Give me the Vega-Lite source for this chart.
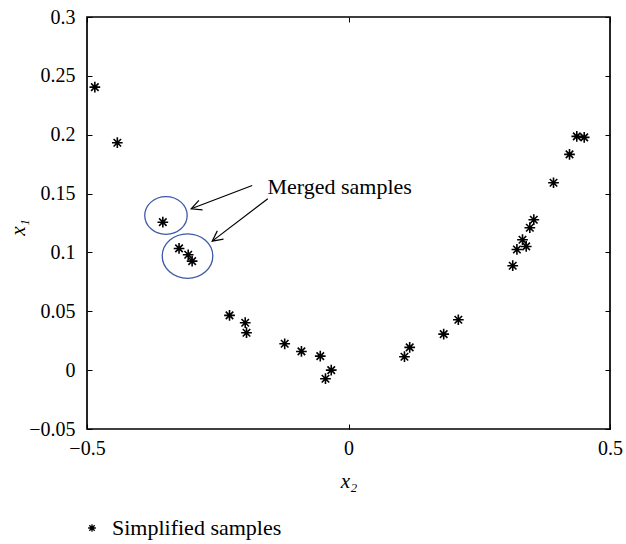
{
  "$schema": "https://vega.github.io/schema/vega-lite/v6.json",
  "width": 523,
  "height": 412,
  "autosize": {"type": "none"},
  "padding": {"left": 87, "top": 17, "right": 16, "bottom": 115},
  "background": "white",
  "config": {
    "view": {"stroke": "black", "strokeWidth": 1.7},
    "font": "Liberation Serif",
    "axis": {
      "domain": false,
      "grid": false,
      "ticks": true,
      "tickColor": "black",
      "tickSize": -5,
      "tickWidth": 1,
      "labelFlush": false,
      "labelOverlap": false,
      "labelColor": "black",
      "labelFont": "Liberation Serif",
      "labelFontSize": 20,
      "titleFont": "Liberation Serif",
      "titleFontSize": 21,
      "titleFontStyle": "italic",
      "titleFontWeight": "normal",
      "titleColor": "black"
    }
  },
  "datasets": {
    "samples": [
      {"x2": -0.485, "x1": 0.2404, "series": "Simplified samples"},
      {"x2": -0.442, "x1": 0.1932, "series": "Simplified samples"},
      {"x2": -0.355, "x1": 0.1257, "series": "Simplified samples"},
      {"x2": -0.324, "x1": 0.1034, "series": "Simplified samples"},
      {"x2": -0.3065, "x1": 0.098, "series": "Simplified samples"},
      {"x2": -0.299, "x1": 0.0926, "series": "Simplified samples"},
      {"x2": -0.2275, "x1": 0.0465, "series": "Simplified samples"},
      {"x2": -0.1975, "x1": 0.0403, "series": "Simplified samples"},
      {"x2": -0.195, "x1": 0.0318, "series": "Simplified samples"},
      {"x2": -0.122, "x1": 0.0224, "series": "Simplified samples"},
      {"x2": -0.09, "x1": 0.0159, "series": "Simplified samples"},
      {"x2": -0.054, "x1": 0.0119, "series": "Simplified samples"},
      {"x2": -0.033, "x1": 0.0, "series": "Simplified samples"},
      {"x2": -0.044, "x1": -0.0073, "series": "Simplified samples"},
      {"x2": 0.107, "x1": 0.0114, "series": "Simplified samples"},
      {"x2": 0.117, "x1": 0.0193, "series": "Simplified samples"},
      {"x2": 0.182, "x1": 0.0306, "series": "Simplified samples"},
      {"x2": 0.21, "x1": 0.0428, "series": "Simplified samples"},
      {"x2": 0.314, "x1": 0.0887, "series": "Simplified samples"},
      {"x2": 0.322, "x1": 0.1025, "series": "Simplified samples"},
      {"x2": 0.3327, "x1": 0.1108, "series": "Simplified samples"},
      {"x2": 0.3398, "x1": 0.1051, "series": "Simplified samples"},
      {"x2": 0.3467, "x1": 0.121, "series": "Simplified samples"},
      {"x2": 0.3543, "x1": 0.1278, "series": "Simplified samples"},
      {"x2": 0.392, "x1": 0.1592, "series": "Simplified samples"},
      {"x2": 0.4226, "x1": 0.1833, "series": "Simplified samples"},
      {"x2": 0.4365, "x1": 0.1986, "series": "Simplified samples"},
      {"x2": 0.4507, "x1": 0.1977, "series": "Simplified samples"}
    ],
    "ellipses": [
      {"x2": -0.349, "x1": 0.1314, "group": "A"},
      {"x2": -0.3078, "x1": 0.0969, "group": "B"}
    ],
    "arrows": [
      {"id": "A", "xs": -0.1841, "ys": 0.1569, "xe": -0.3008, "ye": 0.1371},
      {"id": "B", "xs": -0.1543, "ys": 0.1456, "xe": -0.2606, "ye": 0.1096}
    ],
    "labels": [
      {"x2": -0.1549, "x1": 0.1493, "text": "Merged samples"}
    ]
  },
  "layer": [
    {
      "data": {"name": "samples"},
      "mark": {"type": "point", "opacity": 0},
      "encoding": {
        "x": {"field": "x2", "type": "quantitative", "scale": {"domain": [-0.5, 0.5], "nice": false, "zero": false},
              "axis": {"orient": "top", "values": [-0.5, 0, 0.5], "labels": false, "title": null}},
        "y": {"field": "x1", "type": "quantitative", "scale": {"domain": [-0.05, 0.3], "nice": false, "zero": false},
              "axis": {"orient": "right", "values": [-0.05, 0, 0.05, 0.1, 0.15, 0.2, 0.25, 0.3], "labels": false, "title": null}}
      }
    },
    {
      "data": {"name": "ellipses"},
      "transform": [{"filter": "datum.group === 'A'"}],
      "mark": {"type": "point", "filled": false, "stroke": "#3d5aa8", "strokeWidth": 1.3, "opacity": 1, "size": 1800,
               "shape": "M-1,0A1,0.89,0,1,0,1,0A1,0.89,0,1,0,-1,0Z"},
      "encoding": {
        "x": {"field": "x2", "type": "quantitative", "axis": null},
        "y": {"field": "x1", "type": "quantitative", "axis": null}
      }
    },
    {
      "data": {"name": "ellipses"},
      "transform": [{"filter": "datum.group === 'B'"}],
      "mark": {"type": "point", "filled": false, "stroke": "#3d5aa8", "strokeWidth": 1.3, "opacity": 1, "size": 2560,
               "shape": "M-1,0A1,0.88,0,1,0,1,0A1,0.88,0,1,0,-1,0Z"},
      "encoding": {
        "x": {"field": "x2", "type": "quantitative", "axis": null},
        "y": {"field": "x1", "type": "quantitative", "axis": null}
      }
    },
    {
      "data": {"name": "arrows"},
      "mark": {"type": "rule", "color": "black", "strokeWidth": 1.2},
      "encoding": {
        "x": {"field": "xs", "type": "quantitative", "axis": null},
        "y": {"field": "ys", "type": "quantitative", "axis": null},
        "x2": {"field": "xe"},
        "y2": {"field": "ye"}
      }
    },
    {
      "data": {"name": "arrows"},
      "transform": [{"filter": "datum.id === 'A'"}],
      "mark": {"type": "point", "filled": false, "stroke": "black", "strokeWidth": 1.2, "opacity": 1, "size": 420,
               "shape": "M-1,-0.5L0,0L-1,0.5", "angle": 159},
      "encoding": {
        "x": {"field": "xe", "type": "quantitative", "axis": null},
        "y": {"field": "ye", "type": "quantitative", "axis": null}
      }
    },
    {
      "data": {"name": "arrows"},
      "transform": [{"filter": "datum.id === 'B'"}],
      "mark": {"type": "point", "filled": false, "stroke": "black", "strokeWidth": 1.2, "opacity": 1, "size": 420,
               "shape": "M-1,-0.5L0,0L-1,0.5", "angle": 143},
      "encoding": {
        "x": {"field": "xe", "type": "quantitative", "axis": null},
        "y": {"field": "ye", "type": "quantitative", "axis": null}
      }
    },
    {
      "data": {"name": "labels"},
      "mark": {"type": "text", "align": "left", "baseline": "alphabetic", "font": "Liberation Serif", "fontSize": 22, "color": "black"},
      "encoding": {
        "x": {"field": "x2", "type": "quantitative", "axis": null},
        "y": {"field": "x1", "type": "quantitative", "axis": null},
        "text": {"field": "text"}
      }
    },
    {
      "data": {"name": "samples"},
      "mark": {"type": "point", "filled": false, "stroke": "black", "strokeWidth": 1.6, "opacity": 1, "size": 115},
      "encoding": {
        "x": {"field": "x2", "type": "quantitative",
              "axis": {"orient": "bottom", "values": [-0.5, 0, 0.5], "format": ".1~f", "title": "x₂", "labelPadding": 14,
                       "titleX": 261.5, "titleY": 52, "titleBaseline": "middle", "titleAlign": "center"}},
        "y": {"field": "x1", "type": "quantitative",
              "axis": {"orient": "left", "values": [-0.05, 0, 0.05, 0.1, 0.15, 0.2, 0.25, 0.3], "format": ".2~f", "title": "x₁", "labelPadding": 17,
                       "titleX": -69, "titleY": 210, "titleBaseline": "middle", "titleAlign": "center", "titleAngle": -90}},
        "shape": {"field": "series", "type": "nominal", "title": null,
                  "scale": {"range": ["M-1,0L1,0M0,-1L0,1M-0.7,-0.7L0.7,0.7M-0.7,0.7L0.7,-0.7"]},
                  "legend": {"orient": "none", "legendX": -6, "legendY": 500, "padding": 0, "symbolSize": 60,
                             "symbolStrokeColor": "black", "symbolStrokeWidth": 1.3, "symbolFillColor": "transparent",
                             "labelFont": "Liberation Serif", "labelFontSize": 22, "labelColor": "black", "labelOffset": 9, "labelLimit": 400}}
      }
    }
  ],
  "resolve": {"axis": {"x": "independent", "y": "independent"}}
}
